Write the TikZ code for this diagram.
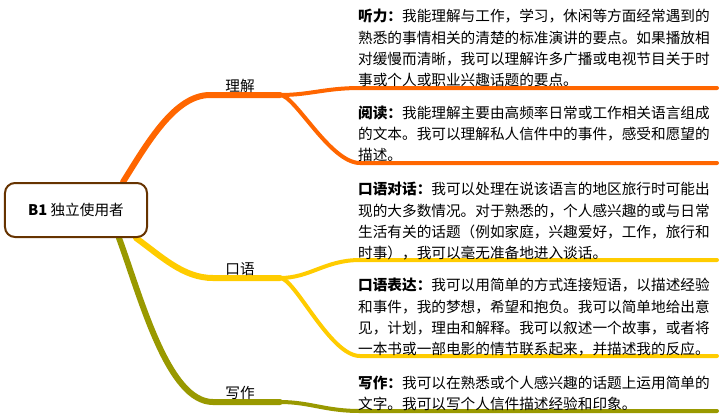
\documentclass[tikz,border=0pt]{standalone}
\usepackage{fontspec}
\setmainfont{Noto Sans CJK SC}
\usetikzlibrary{positioning,calc}
\pgfdeclarelayer{bg}
\pgfsetlayers{bg,main}
\definecolor{rootbrown}{HTML}{663300}
\definecolor{liorange}{HTML}{FF6600}
\definecolor{kouyellow}{HTML}{FFCC00}
\definecolor{xieolive}{HTML}{999900}
\tikzstyle{rootbox}=[draw=rootbrown,line width=2bp,rounded corners=10bp,fill=white,minimum width=142bp,minimum height=54bp,font=\fontsize{14.7}{17}\selectfont]
\tikzstyle{topic}=[inner sep=1bp,font=\fontsize{14.7}{17}\selectfont]
\tikzstyle{desc}=[inner sep=0pt,align=left,anchor=base west,font=\fontsize{14.7}{21.3}\selectfont]
\tikzstyle{trunk} = [draw,line width=6bp,line cap=round]
\tikzstyle{twig} = [draw,line width=4bp,line cap=round]

\begin{document}
\begin{tikzpicture}[x=1bp,y=-1bp]
                    \useasboundingbox (0,0) rectangle (720,419);
                    \node[rootbox] (b1) at (76,210) {\textbf{B1} 独立使用者};

                    % branch ends
                    \coordinate (li-a) at (210,95);
                    \coordinate (li-b) at (280,95);
                    \coordinate (kou-a) at (213,278);
                    \coordinate (kou-b) at (280,278);
                    \coordinate (xie-a) at (213,402);
                    \coordinate (xie-b) at (280,402);

                    \node[topic,anchor=south] (li) at (240,94) {理解};
                    \node[topic,anchor=south] (kou) at (240,277) {口语};
                    \node[topic,anchor=south] (xie) at (240,401) {写作};

                    % texts and underlines (base = last line)
                    \node[desc] (ting) at (358,85.5) {\textbf{听力：}我能理解与工作，学习，休闲等方面经常遇到的\\
                        熟悉的事情相关的清楚的标准演讲的要点。如果播放相\\
                        对缓慢而清晰，我可以理解许多广播或电视节目关于时\\
                        事或个人或职业兴趣话题的要点。};
                    \coordinate (ting-s) at (360,88);
                    \coordinate (ting-e) at (717,88);

                    \node[desc] (yue) at (358,160.5) {\textbf{阅读：}我能理解主要由高频率日常或工作相关语言组成\\
                        的文本。我可以理解私人信件中的事件，感受和愿望的\\
                        描述。};
                    \coordinate (yue-s) at (360,163);
                    \coordinate (yue-e) at (717,163);

                    \node[desc] (dui) at (358,258.5) {\textbf{口语对话：}我可以处理在说该语言的地区旅行时可能出\\
                        现的大多数情况。对于熟悉的，个人感兴趣的或与日常\\
                        生活有关的话题（例如家庭，兴趣爱好，工作，旅行和\\
                        时事），我可以毫无准备地进入谈话。};
                    \coordinate (dui-s) at (360,260);
                    \coordinate (dui-e) at (717,260);

                    \node[desc] (biao) at (358,354.5) {\textbf{口语表达：}我可以用简单的方式连接短语，以描述经验\\
                        和事件，我的梦想，希望和抱负。我可以简单地给出意\\
                        见，计划，理由和解释。我可以叙述一个故事，或者将\\
                        一本书或一部电影的情节联系起来，并描述我的反应。};
                    \coordinate (biao-s) at (360,356);
                    \coordinate (biao-e) at (717,356);

                    \node[desc] (zuo) at (358,409.5) {\textbf{写作：}我可以在熟悉或个人感兴趣的话题上运用简单的\\
                        文字。我可以写个人信件描述经验和印象。};
                    \coordinate (zuo-s) at (360,411);
                    \coordinate (zuo-e) at (717,411);

                    \begin{pgfonlayer}{bg}
                    \path[trunk,draw=liorange] ([xshift=-25bp]b1.north east) .. controls +(25,-40) and +(-35,0) .. (li-a) -- (li-b);
                    \path[twig,draw=liorange] (li-b) .. controls +(30,0) and +(-35,0) .. (ting-s) -- (ting-e);
                    \path[twig,draw=liorange] (li-b) .. controls +(15,0) and +(-30,0) .. (yue-s) -- (yue-e);

                    \path[trunk,draw=kouyellow] ([xshift=-12bp]b1.south east) .. controls +(25,18) and +(-30,0) .. (kou-a) -- (kou-b);
                    \path[twig,draw=kouyellow] (kou-b) .. controls +(30,0) and +(-35,0) .. (dui-s) -- (dui-e);
                    \path[twig,draw=kouyellow] (kou-b) .. controls +(15,0) and +(-30,0) .. (biao-s) -- (biao-e);

                    \path[trunk,draw=xieolive] ([xshift=-29bp]b1.south east) .. controls +(22,60) and +(-45,0) .. (xie-a) -- (xie-b);
                    \path[twig,draw=xieolive] (xie-b) .. controls +(30,0) and +(-35,0) .. (zuo-s) -- (zuo-e);
                    \end{pgfonlayer}
                \end{tikzpicture}
\end{document}
